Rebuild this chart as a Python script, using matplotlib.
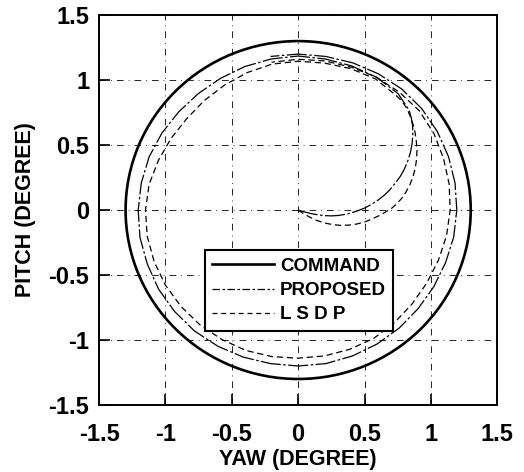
import numpy as np
import matplotlib
matplotlib.use('Agg')
import matplotlib.pyplot as plt
from matplotlib.patches import Circle
from matplotlib.lines import Line2D

plt.rcParams['font.family'] = ['Liberation Sans', 'DejaVu Sans']
plt.rcParams['font.weight'] = 'bold'

# Command trajectory: circle of radius 1.3 deg
command_radius = 1.3

# Proposed controller: start-up transient (yaw, pitch) in degrees
proposed_start_yaw = [0.0, 0.05, 0.1, 0.15, 0.2, 0.25, 0.3, 0.35, 0.4, 0.45, 0.5,
                      0.55, 0.6, 0.65, 0.69, 0.73, 0.77, 0.8, 0.825, 0.845, 0.858,
                      0.864, 0.862, 0.852, 0.835]
proposed_start_pitch = [0.0, -0.015, -0.028, -0.037, -0.043, -0.045, -0.042, -0.034,
                        -0.022, -0.005, 0.015, 0.042, 0.075, 0.115, 0.155, 0.205,
                        0.26, 0.315, 0.375, 0.44, 0.51, 0.58, 0.65, 0.71, 0.77]
# Proposed controller: orbit, angle (deg) and radius (deg)
proposed_angle = [50, 60, 70, 80, 90, 100, 110, 120, 130, 140, 150, 160, 170, 180,
                  190, 200, 210, 220, 230, 240, 250, 260, 270, 280, 290, 300, 310,
                  320, 330, 340, 350, 360, 370, 380, 390, 400, 410, 420, 430, 440,
                  450, 460]
proposed_radius = [1.17, 1.18, 1.18, 1.18, 1.185, 1.18, 1.175, 1.17, 1.17, 1.175,
                   1.185, 1.195, 1.2, 1.205, 1.21, 1.21, 1.215, 1.215, 1.215, 1.21,
                   1.205, 1.2, 1.2, 1.2, 1.195, 1.19, 1.185, 1.18, 1.18, 1.182,
                   1.19, 1.195, 1.2, 1.205, 1.21, 1.215, 1.215, 1.21, 1.205, 1.2,
                   1.2, 1.2]

# LSDP controller: start-up transient (yaw, pitch) in degrees
lsdp_start_yaw = [0.0, 0.045, 0.09, 0.14, 0.2, 0.26, 0.32, 0.38, 0.44, 0.5, 0.55,
                  0.6, 0.65, 0.7, 0.74, 0.78, 0.81, 0.84, 0.865, 0.882, 0.892,
                  0.895, 0.89, 0.88, 0.865, 0.845, 0.82, 0.78]
lsdp_start_pitch = [0.0, -0.03, -0.056, -0.08, -0.1, -0.112, -0.118, -0.116, -0.108,
                    -0.092, -0.072, -0.048, -0.02, 0.01, 0.045, 0.09, 0.135, 0.19,
                    0.255, 0.32, 0.39, 0.46, 0.53, 0.6, 0.66, 0.72, 0.78, 0.84]
# LSDP controller: orbit, angle (deg) and radius (deg)
lsdp_angle = [50, 60, 70, 80, 90, 100, 110, 120, 130, 140, 150, 160, 170, 180,
              190, 200, 210, 220, 230, 240, 250, 260, 270, 280, 290, 300, 310,
              320, 330, 340, 350, 360, 370, 380, 390, 400, 410, 420, 430, 440,
              450, 460]
lsdp_radius = [1.15, 1.165, 1.158, 1.148, 1.145, 1.14, 1.125, 1.11, 1.1, 1.095,
               1.105, 1.12, 1.14, 1.15, 1.155, 1.155, 1.155, 1.153, 1.152, 1.15,
               1.15, 1.145, 1.14, 1.14, 1.14, 1.14, 1.13, 1.122, 1.12, 1.125,
               1.135, 1.145, 1.155, 1.165, 1.18, 1.19, 1.185, 1.18, 1.17, 1.165,
               1.16, 1.155]

ticks = [-1.5, -1, -0.5, 0, 0.5, 1, 1.5]
tick_labels = ['-1.5', '-1', '-0.5', '0', '0.5', '1', '1.5']


def trajectory(start_x, start_y, angle, radius):
    th = np.radians(angle)
    r = np.asarray(radius)
    x = np.concatenate([start_x, r * np.cos(th)])
    y = np.concatenate([start_y, r * np.sin(th)])
    return x, y


px, py = trajectory(proposed_start_yaw, proposed_start_pitch,
                    proposed_angle, proposed_radius)
lx, ly = trajectory(lsdp_start_yaw, lsdp_start_pitch, lsdp_angle, lsdp_radius)

fig = plt.figure(figsize=(5.24, 4.72), dpi=100)
ax = fig.add_axes([0.189, 0.142, 0.760, 0.826])

ax.add_patch(Circle((0, 0), command_radius, fill=False, color='black', lw=1.9))
ax.plot(px, py, color='black', lw=0.9, linestyle=(0, (16, 2, 2, 2)))
ax.plot(lx, ly, color='black', lw=0.9, linestyle=(0, (5, 3)))

ax.set_xlim(-1.5, 1.5)
ax.set_ylim(-1.5, 1.5)
ax.set_xticks(ticks)
ax.set_xticklabels(tick_labels)
ax.set_yticks(ticks)
ax.set_yticklabels(tick_labels)
ax.tick_params(direction='in', length=8, width=1.2, labelsize=17, pad=7)
ax.tick_params(axis='x', pad=13)
for s in ax.spines.values():
    s.set_linewidth(1.4)

ax.grid(True, color='black', lw=0.6, linestyle=(0, (8, 6, 1, 6)))

ax.set_xlabel('YAW (DEGREE)', fontsize=15.5, fontweight='bold', labelpad=2)
ax.set_ylabel('PITCH (DEGREE)', fontsize=15.5, fontweight='bold', labelpad=9)

handles = [
    Line2D([], [], color='black', lw=1.9),
    Line2D([], [], color='black', lw=0.9, linestyle=(0, (6, 2, 2, 2))),
    Line2D([], [], color='black', lw=0.9, linestyle=(0, (4, 3))),
]
leg = ax.legend(handles, ['COMMAND', 'PROPOSED', 'L S D P'],
                loc='upper left', bbox_to_anchor=(0.266, 0.397),
                borderaxespad=0, fancybox=False, framealpha=1,
                edgecolor='black', handlelength=3.3, handletextpad=0.3,
                labelspacing=0.38, borderpad=0.4,
                prop={'size': 13.5, 'weight': 'bold'})
leg.get_frame().set_linewidth(1.5)

plt.savefig('out.png', dpi=100)
